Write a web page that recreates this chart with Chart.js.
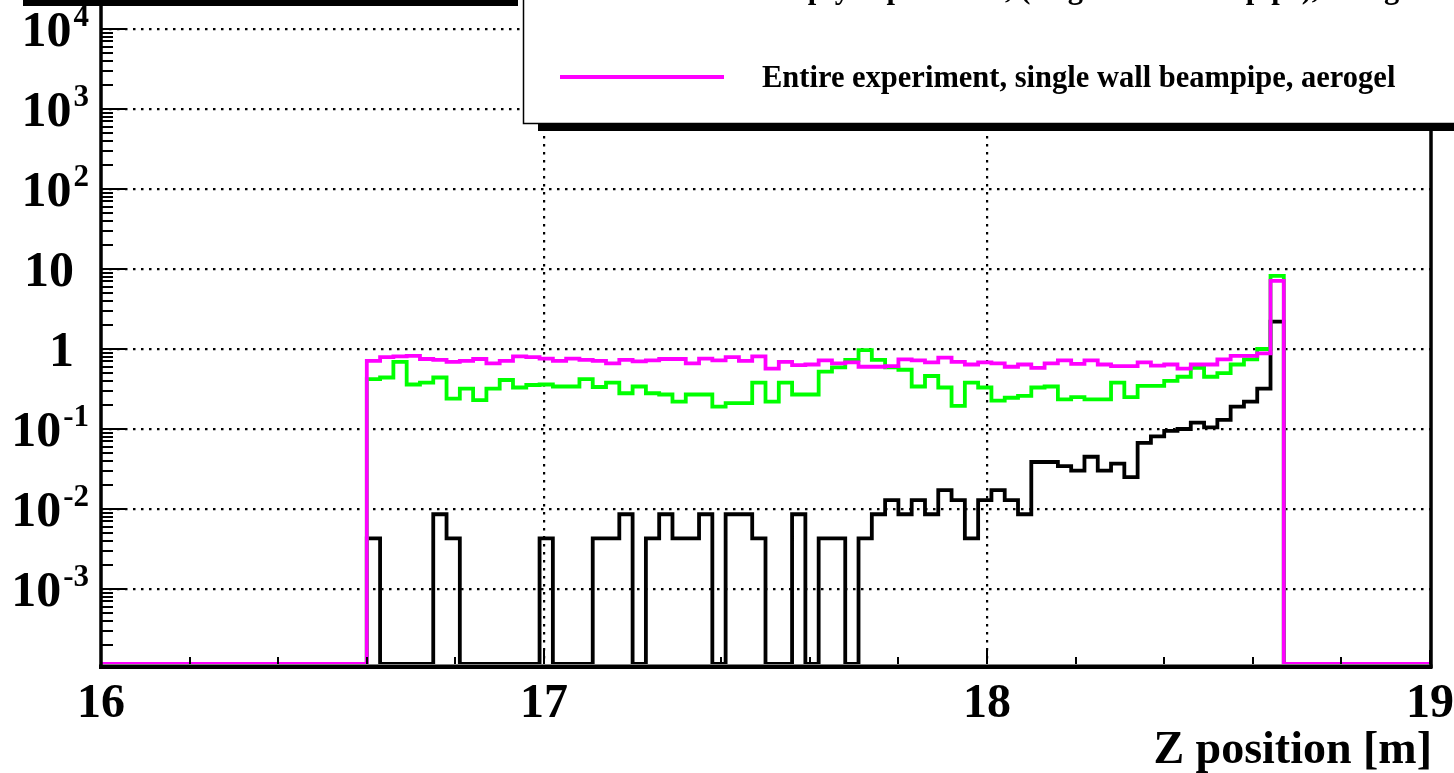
<!DOCTYPE html>
<html>
<head>
<meta charset="utf-8">
<script src="https://cdn.jsdelivr.net/npm/chart.js@4.4.0/dist/chart.umd.min.js"></script>
<style>
  html, body { margin: 0; padding: 0; background: #fff; }
  #wrap { position: relative; width: 1454px; height: 773px; overflow: hidden; }
</style>
</head>
<body>
<div id="wrap"><canvas id="zplot" width="1454" height="773"></canvas></div>
<script>
// histogram binning (m)
const zMin = 16.0;
const zMax = 19.0;
const binWidth = 0.03;
const firstBin = 20;   // first filled bin starts at 16.60 m

const xTicks = [16, 17, 18, 19];
const yTicks = [1e-3, 1e-2, 1e-1, 1, 10, 1e2, 1e3, 1e4];
const yTickBase = ['10', '10', '10', '1', '10', '10', '10', '10'];
const yTickExp  = ['-3', '-2', '-1', '',  '',   '2',  '3',  '4'];

const seriesNames = [
    'Empty experiment, single wall beampipe',
    'Empty experiment, (single wall beampipe), aerogel',
    'Entire experiment, single wall beampipe, aerogel'
];

// bins 16.60 ... 18.67 m
const blackVals = [
    0.0043, 0, 0, 0, 0, 0.0086, 0.0043, 0, 0, 0,
    0, 0, 0, 0.0043, 0, 0, 0, 0.0043, 0.0043, 0.0086,
    0, 0.0043, 0.0086, 0.0043, 0.0043, 0.0086, 0, 0.0086, 0.0086, 0.0043,
    0, 0, 0.0086, 0, 0.0043, 0.0043, 0, 0.0043, 0.0086, 0.0129,
    0.0086, 0.0129, 0.0086, 0.0172, 0.0129, 0.0043, 0.0129, 0.0172, 0.0129, 0.0086,
    0.0387, 0.0387, 0.0344, 0.0301, 0.045, 0.0301, 0.037, 0.025, 0.067, 0.081,
    0.095, 0.1, 0.12, 0.105, 0.13, 0.19, 0.22, 0.32, 2.2
];
const greenVals = [
    0.42, 0.44, 0.69, 0.36, 0.38, 0.44, 0.24, 0.32, 0.23, 0.32,
    0.41, 0.33, 0.355, 0.36, 0.34, 0.34, 0.42, 0.335, 0.38, 0.28,
    0.34, 0.28, 0.27, 0.22, 0.27, 0.27, 0.19, 0.21, 0.21, 0.38,
    0.22, 0.38, 0.27, 0.27, 0.52, 0.59, 0.73, 0.97, 0.73, 0.59,
    0.55, 0.34, 0.46, 0.33, 0.195, 0.38, 0.33, 0.226, 0.246, 0.26,
    0.33, 0.34, 0.235, 0.25, 0.235, 0.235, 0.38, 0.25, 0.345, 0.345,
    0.40, 0.45, 0.58, 0.45, 0.50, 0.64, 0.74, 1.0, 8.2
];
const magentaVals = [
    0.71, 0.79, 0.81, 0.82, 0.75, 0.73, 0.69, 0.71, 0.75, 0.66,
    0.71, 0.81, 0.79, 0.76, 0.71, 0.76, 0.73, 0.71, 0.66, 0.73,
    0.70, 0.72, 0.75, 0.75, 0.66, 0.76, 0.72, 0.79, 0.71, 0.81,
    0.57, 0.69, 0.63, 0.64, 0.72, 0.66, 0.68, 0.60, 0.60, 0.61,
    0.74, 0.72, 0.68, 0.78, 0.69, 0.64, 0.68, 0.66, 0.60, 0.64,
    0.58, 0.66, 0.72, 0.65, 0.72, 0.64, 0.61, 0.61, 0.68, 0.62,
    0.64, 0.57, 0.64, 0.64, 0.74, 0.82, 0.82, 0.88, 7.1
];

const yMin = Math.pow(10, -3.9375);
const yMax = Math.pow(10, 4.3625);
const seriesColors = ['#000000', '#00ff00', '#ff00ff'];

// empty bins sit on the frame bottom, as ROOT draws them on a log axis
function histPoints(vals) {
    const nBins = Math.round((zMax - zMin) / binWidth);
    const pts = [];
    for (let k = 0; k < nBins; k++) {
        const i = k - firstBin;
        const v = (i >= 0 && i < vals.length) ? vals[i] : 0;
        pts.push({x: zMin + k * binWidth, y: v > 0 ? v : yMin});
    }
    pts.push({x: zMax, y: yMin});
    return pts;
}

const serif = '"Liberation Serif", "DejaVu Serif", serif';

const rootFrame = {
    id: 'rootFrame',
    beforeDatasetsDraw(chart) {
        const {ctx, chartArea: a} = chart;
        ctx.save();
        ctx.fillStyle = '#000';
        ctx.fillRect(a.left - 2, a.bottom + 0.5, a.right - a.left + 4.5, 4.5);
        ctx.restore();
    },
    afterDatasetsDraw(chart) {
        const {ctx, chartArea: a, scales: {x, y}} = chart;
        ctx.save();
        ctx.strokeStyle = '#000';
        ctx.fillStyle = '#000';

        // frame sides
        ctx.lineWidth = 3.5;
        ctx.beginPath();
        ctx.moveTo(a.left, a.top + 6); ctx.lineTo(a.left, a.bottom + 4);
        ctx.moveTo(a.right + 1, a.top); ctx.lineTo(a.right + 1, a.bottom + 4);
        ctx.stroke();

        // y ticks (log, with 2..9 subticks)
        ctx.lineWidth = 2;
        ctx.beginPath();
        for (let e = -4; e <= 4; e++) {
            for (let d = 1; d <= 9; d++) {
                const v = d * Math.pow(10, e);
                if (v < yMin || v > yMax) continue;
                const py = Math.round(y.getPixelForValue(v));
                const len = d === 1 ? 25 : 12;
                ctx.moveTo(a.left, py); ctx.lineTo(a.left + len, py);
            }
        }
        // x ticks
        for (let i = 0; i <= 15; i++) {
            const v = zMin + i * 0.2;
            const px = Math.round(x.getPixelForValue(v));
            const len = i % 5 === 0 ? 14 : 7;
            ctx.moveTo(px, a.bottom); ctx.lineTo(px, a.bottom - len);
        }
        ctx.stroke();

        // y labels
        ctx.textBaseline = 'alphabetic';
        yTicks.forEach((v, i) => {
            const py = y.getPixelForValue(v);
            const base = yTickBase[i], ex = yTickExp[i];
            ctx.font = 'bold 50px ' + serif;
            const wb = ctx.measureText(base).width;
            if (ex) {
                ctx.font = 'bold 31px ' + serif;
                const we = ctx.measureText(ex).width;
                const right = 89;
                ctx.fillText(ex, right - we, py - 3);
                ctx.font = 'bold 50px ' + serif;
                ctx.fillText(base, right - we - wb - 2, py + 17);
            } else {
                ctx.fillText(base, 74 - wb, py + 17);
            }
        });

        // x labels
        ctx.font = 'bold 48px ' + serif;
        ctx.textAlign = 'center';
        xTicks.forEach(v => {
            ctx.fillText(String(v), x.getPixelForValue(v), 717);
        });
        ctx.textAlign = 'right';
        ctx.font = 'bold 46px ' + serif;
        ctx.fillText('Z position [m]', 1432, 763);
        ctx.restore();
    },
    afterDraw(chart) {
        const {ctx} = chart;
        ctx.save();
        // shadow bar of the box above the frame
        ctx.fillStyle = '#000';
        ctx.fillRect(23, 0, 495, 6);

        // legend box with ROOT-style shadow
        ctx.fillStyle = '#000';
        ctx.fillRect(538, 123, 930, 8);
        ctx.fillStyle = '#fff';
        ctx.fillRect(523, -300, 940, 423);
        ctx.strokeStyle = '#000';
        ctx.lineWidth = 1.5;
        ctx.beginPath();
        ctx.moveTo(523.5, -10); ctx.lineTo(523.5, 123.5); ctx.lineTo(1470, 123.5);
        ctx.stroke();

        ctx.font = 'bold 30.5px ' + serif;
        ctx.textAlign = 'left';
        ctx.fillStyle = '#000';
        const rowY = [-88, -2, 87];
        seriesNames.forEach((name, i) => {
            const by = rowY[i];
            ctx.strokeStyle = seriesColors[i];
            ctx.lineWidth = 4;
            ctx.beginPath();
            ctx.moveTo(560, by - 10); ctx.lineTo(724, by - 10);
            ctx.stroke();
            ctx.fillText(name, 762, by);
        });
        ctx.restore();
    }
};

function createHistChart(canvas) {
    const datasets = [blackVals, greenVals, magentaVals].map((vals, i) => ({
        label: seriesNames[i],
        data: histPoints(vals),
        borderColor: seriesColors[i],
        borderWidth: 3.8,
        stepped: 'before',
        pointRadius: 0,
        fill: false,
        order: 2 - i
    }));

    return new Chart(canvas, {
        type: 'line',
        data: {datasets: datasets},
        options: {
            responsive: false,
            animation: false,
            devicePixelRatio: 1,
            layout: {padding: {left: 101, right: 24, top: 0, bottom: 109}},
            plugins: {legend: {display: false}, tooltip: {enabled: false}},
            scales: {
                x: {
                    type: 'linear',
                    min: zMin,
                    max: zMax,
                    afterBuildTicks: s => { s.ticks = xTicks.map(v => ({value: v})); },
                    afterFit: s => { s.height = 0; },
                    ticks: {display: false},
                    grid: {
                        drawTicks: false,
                        lineWidth: 2.2,
                        color: c => (c.tick && c.tick.value > zMin && c.tick.value < zMax) ? '#000' : 'rgba(0,0,0,0)'
                    },
                    border: {display: false, dash: [2.5, 5.5]}
                },
                y: {
                    type: 'logarithmic',
                    min: yMin,
                    max: yMax,
                    afterBuildTicks: s => { s.ticks = yTicks.map(v => ({value: v})); },
                    afterFit: s => { s.width = 0; },
                    ticks: {display: false},
                    grid: {drawTicks: false, lineWidth: 2.2, color: '#000'},
                    border: {display: false, dash: [2.5, 5.5]}
                }
            }
        },
        plugins: [rootFrame]
    });
}

document.addEventListener('DOMContentLoaded', () => {
    createHistChart(document.getElementById('zplot'));
});
</script>
</body>
</html>
